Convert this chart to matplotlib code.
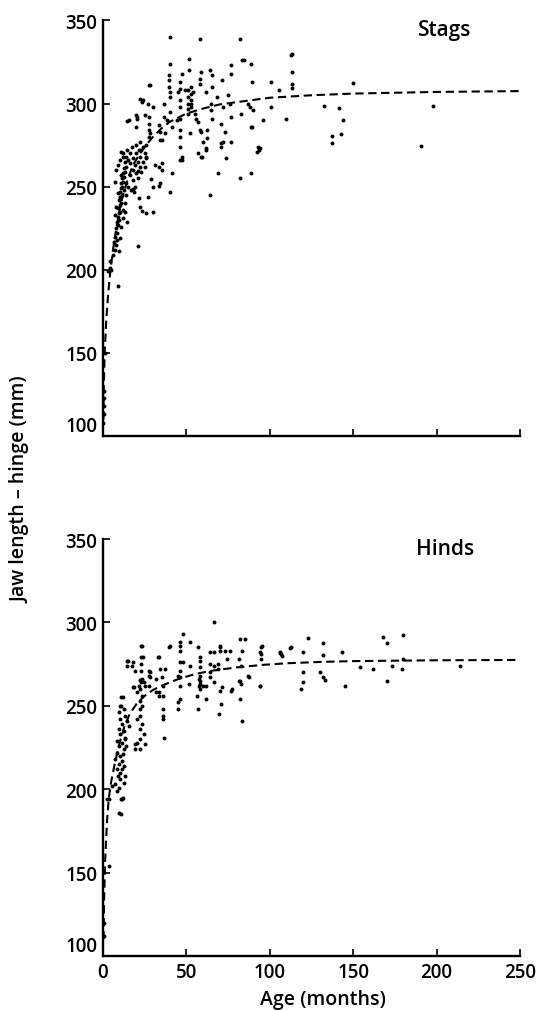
import numpy as np
import matplotlib
matplotlib.use('Agg')
import matplotlib.pyplot as plt

plt.rcParams['font.family'] = ['Open Sans', 'DejaVu Sans']
plt.rcParams['font.weight'] = 'semibold'

# (age in months, jaw length in mm)
stags = [
    (0.3,108),(0.4,113),(0.5,118),(0.5,123),(0.6,127),(1.2,150),
    (3.0,199),(4.0,201),(5.0,200),(4.5,205),(6.0,209),(7.0,212),(8.0,215),(6.5,217),(9.5,211),(8.8,190),
    (7.5,220),(8.5,222),(7.8,225),(9.0,227),(8.2,229),(9.6,230),(8.8,232),(9.4,234),(10.2,235),(9.0,237),
    (10.0,239),(10.8,240),(9.6,242),(10.4,244),(11.2,245),(10.0,247),(10.8,249),(11.6,250),(10.6,252),
    (11.8,253),(11.2,255),(12.6,256),(12.0,258),(13.2,259),(12.4,261),(13.6,262),(11.0,257),(9.0,246),
    (8.0,238),(12.8,248),(13.8,252),(12.0,236),(13.4,240),(11.0,226),(10.0,219),(12.0,231),(14.6,229),
    (13.2,235),(7.0,233),(8.4,218),
    (13.0,265),(14.0,268),(12.2,270),(15.0,266),(16.0,264),(14.6,272),(16.0,270),(17.2,274),(18.0,267),
    (18.0,260),(19.0,263),(20.0,258),(20.0,270),(21.0,265),(22.0,268),(23.0,272),(24.0,274),(25.0,270),
    (22.0,262),(24.0,265),(26.0,268),(21.0,255),(23.0,259),(25.0,262),(26.0,275),(21.6,272),(20.0,275),
    (22.0,277),(18.0,254),(17.0,248),(16.0,257),(15.0,250),(14.0,245),(19.0,250),(7.0,253),(8.0,260),
    (9.0,263),(10.0,266),(11.0,271),(14.6,289.7),(12.0,268),
    (21.5,243),(22.0,238),(23.3,235.5),(20.8,214.4),(17.7,248.5),(18.8,246.5),(27.0,244),(26.0,234),
    (30.2,235),(29.0,254.6),(33.3,250.5),(40.0,246.6),(21.0,259.6),
    (40.2,340),(57.9,339),(82.3,339),(40.0,324),(51.7,327),(51.7,320),(59.0,319),(64.2,320),(76.7,323),
    (76.7,318),(83.3,326),(88.5,324),(112.5,329),(39.6,317),(39.6,314),(39.8,310),(40.0,307),(40.0,304),
    (27.7,311),(21.9,303),(24.0,302),(27.0,300),(30.2,298),(20.0,293),(20.5,291),(19.5,286),(27.5,292),
    (27.5,288),(27.5,284),(27.5,280),(33.3,287),(34.4,283),(35.4,278),(36.5,292),(38.5,290),(46.0,313),
    (46.0,309),(46.0,302),(46.0,298),(46.0,291),(46.0,280),(46.0,274),(46.0,266),(50.8,308),(50.8,304),
    (50.8,300),(50.8,297),(50.8,294),(53.0,300),(55.0,294),(56.0,291),(57.0,289),(58.0,284),(59.0,283),
    (60.0,277),(61.5,272),(59.0,268),(64.6,300),(65.0,296),(65.6,291),(71.0,288),(72.0,298),(73.0,283),
    (71.0,276),(71.0,274),(74.0,267),(69.2,258),(75.0,305),(76.0,300),(76.7,292),(83.0,294),(87.0,300),
    (88.0,298),(90.0,296),(89.0,286),(92.7,274),(93.8,272),(88.6,258),(82.0,255),(64.2,245),(36.6,300),
    (40.4,295),(44.3,290),(41.4,286),(46.2,284),(37.2,282),(34.2,278),(52.0,282),(62.5,284),(62.5,279),
    (72.1,277),(76.9,277),(89.4,286),(61.6,273),(56.8,270),(59.2,268),(47.2,268),(47.2,266),(35.2,264),
    (35.2,260),(41.4,258),(34.2,252),(29.9,250),(26.0,267),(31.0,263),(33.5,262),(28.0,282),(23.2,301),
    (15.5,290),(20.3,292),(25.1,293),(45.2,307),(49.1,308),(53.9,307),(61.6,307),(65.4,310),(68.3,304),
    (58.2,315),(58.2,312),(52.9,310),(52.9,306),(52.9,302),(52.9,298),(71.2,314),(89.4,313),(84.6,326),
    (65.4,317),(47.2,318),(28.0,311),
    (101.0,313),(101.0,298),(105.5,308),(110.0,291),(113.5,330),(113.5,319),(113.5,311.5),(113.5,309.5),
    (132.5,298.5),(141.7,297.5),(143.7,290),(142.7,281.5),(137.5,280.5),(137.5,276.5),(149.7,312.5),
    (197.6,298.5),(190.6,274.5),(96.1,290),(92.3,271),(94.2,273),
]

hinds = [
    (0.6,120),(0.4,112),(3.7,154),(9.8,186),(10.8,185),(11.4,194),(10.8,194),(5.4,202),(3.4,194),
    (2.4,194),(12.0,195),
    (12.0,255),(10.4,250),(12.4,248),(9.4,246),(13.4,244),(10.4,242),(14.4,241),(11.4,239),(15.4,238),
    (9.4,236),(12.4,235),(10.4,233),(13.4,231),(8.4,229),(11.4,228),(9.4,226),(12.4,224),(8.4,222),
    (10.4,220),(7.4,218),(11.4,217),(9.4,215),(12.4,214),(8.4,212),(10.4,210),(13.4,208),(10.4,206),
    (12.4,204),(7.4,203),(9.4,201),(8.4,199),(11.0,255),(11.0,250),(13.0,230),(11.5,212),(9.0,208),
    (14.0,226),(12.0,221),
    (18.4,261),(22.4,260),(20.4,258),(23.4,256),(22.0,253),(23.4,250),(22.4,248),(22.0,244),(20.4,242),
    (23.4,239),(22.4,236),(24.4,233),(22.4,230),(20.4,228),(19.4,227),(22.0,224),(25.4,227),(19.0,224),
    (21.4,262),(22.5,264),(23.5,266),(24.5,264),(25.4,262),(22.0,265.5),
    (14.8,277),(18.0,276),(24.0,279),(33.4,279),(23.0,271),(28.4,270),(28.4,267),(34.4,272),(35.4,267),
    (37.4,272),(17.9,261),(22.5,286),(22.5,279),(22.5,275),(17.5,274),(19.0,271),(14.5,276.6),(14.5,274),
    (27.5,271),(27.5,268),(27.5,262),(32.8,279),(32.0,266),(32.0,258),(39.5,285),(33.4,258),(33.4,256),
    (36.0,248),(36.0,242),(36.4,231),(36.0,262),(36.0,256),(36.0,244),
    (66.4,300),(48.0,293),(46.0,288),(46.0,286),(46.0,283),(52.0,288),(40.0,286),(23.4,286),(56.8,285),
    (64.0,282),(70.4,285),(70.4,283),(73.0,283),(76.4,283),(82.4,290),(85.4,290),(83.4,283),(95.4,286),
    (106.4,282),(94.4,282),(46.0,276),(46.0,271),(46.0,267),(48.0,276),(52.4,274),(58.0,279),(58.0,277),
    (58.4,273),(58.4,268),(58.4,265),(58.4,263),(58.4,260),(60.0,262),(62.0,262),(64.0,275),(64.4,270),
    (64.4,267),(69.0,272),(69.0,275),(71.4,261),(77.4,260),(82.4,265),(82.4,254),(83.4,241),(87.4,267),
    (94.4,262),(69.4,245),(70.8,251),(62.0,254),(56.4,256),(56.8,248),(44.8,252),(44.8,248),(44.8,268),
    (46.0,262),(46.0,254),(51.6,263),(57.8,262),(57.8,266),(66.5,282),(66.5,274),(66.5,264),(74.4,278),
    (76.9,259),(81.7,278),(82.8,274),(81.7,265),(82.8,263),(86.9,268),(94.6,285),(94.6,281),(94.6,278),
    (94.0,262),(107.0,281),(112.5,285),(70.0,259),(70.0,286),
    (123.0,290.5),(131.8,287.6),(131.8,280.4),(129.8,270.5),(131.8,267),(132.8,265.6),(119.8,282.4),
    (119.8,270.5),(119.8,264.5),(118.8,260),(112.4,284.5),(106.4,281.6),(107.6,280),(143.0,282.4),
    (144.8,262),(154.0,273),(162.0,272),(168.0,291.4),(170.0,287.5),(170.0,265),(173.5,274),
    (180.0,292.4),(180.0,278),(179.0,272),(214.0,274),
]

# fitted growth curves (dashed)
stags_fit = [(0.3,110),(0.5,130),(1,150),(2,170),(3,184),(4,195),(5,204),(6,212),(8,225),(10,236),
             (12,245),(15,255),(18,263),(21,268),(25,274),(30,280),(35,285),(40,289),(50,294),
             (60,297),(70,299.5),(85,301.5),(100,303.5),(125,305),(150,306),(200,307),(250,307.5)]
hinds_fit = [(0.3,110),(0.7,135),(1.2,155),(1.8,168),(2.5,182),(3.5,195),(5,205),(7,215),(10,228),
             (13,238),(16,245),(20,251),(25,256),(30,259.5),(35,262),(45,266),(55,269),(65,271),
             (80,273),(95,274.5),(110,275.5),(130,276.3),(150,276.8),(200,277.3),(250,277.5)]

xticks = [0, 50, 100, 150, 200, 250]
yticks = [100, 150, 200, 250, 300, 350]

fig = plt.figure(figsize=(5.44, 10.12), dpi=100)
ax1 = fig.add_axes([0.1893, 0.5682, 0.7666, 0.4106])
ax2 = fig.add_axes([0.1893, 0.0543, 0.7666, 0.4121])


def panel(ax, pts, fit, title, show_x):
    pts = np.array(pts)
    fit = np.array(fit)
    ax.scatter(pts[:, 0], pts[:, 1], s=8, c='black', lw=0, zorder=3)
    ax.plot(fit[:, 0], fit[:, 1], color='black', lw=1.5, dashes=(4, 2.2))
    ax.set_xlim(0, 250)
    ax.set_ylim(100, 350)
    ax.set_xticks(xticks)
    ax.set_yticks(yticks)
    if not show_x:
        ax.set_xticklabels([])
    ax.spines['top'].set_visible(False)
    ax.spines['right'].set_visible(False)
    for s in ['left', 'bottom']:
        ax.spines[s].set_linewidth(1.7)
    ax.tick_params(direction='in', length=5, width=1.2, labelsize=13.5, pad=4)
    ax.get_yticklabels()[0].set_va('bottom')
    ax.text(0.82, 0.965, title, transform=ax.transAxes, ha='center', va='baseline', fontsize=15)


panel(ax1, stags, stags_fit, 'Stags', False)
panel(ax2, hinds, hinds_fit, 'Hinds', True)

fig.text(0.037, 0.516, 'Jaw length \u2013 hinge (mm)', rotation=90, ha='center', va='center', fontsize=14)
fig.text(322.5 / 544, 1 - 1000 / 1012, 'Age (months)', ha='center', va='center', fontsize=14)

fig.savefig('out.png', dpi=100)
